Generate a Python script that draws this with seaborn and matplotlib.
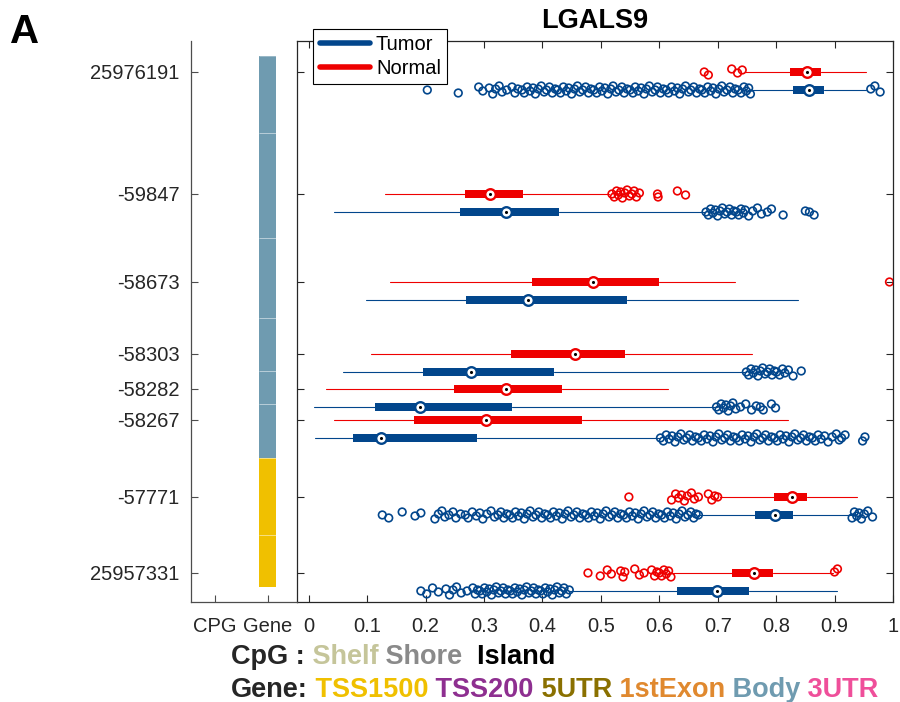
import numpy as np
import pandas as pd
import matplotlib
matplotlib.use("Agg")
import matplotlib.pyplot as plt
from matplotlib.lines import Line2D
from matplotlib.text import Annotation
import seaborn as sns

# ---- data ----
gene_name = "LGALS9"
cpg_labels = ["25976191", "-59847", "-58673", "-58303", "-58282", "-58267", "-57771", "25957331"]
cpg_pos = [25976191, 25971598, 25968286, 25965575, 25964258, 25963091, 25960192, 25957331]
gene_region = ["Body", "Body", "Body", "Body", "Body", "Body", "TSS1500", "TSS1500"]

normal_whislo = [0.747, 0.131, 0.140, 0.106, 0.030, 0.044, 0.704, 0.624]
normal_q1 = [0.824, 0.268, 0.382, 0.346, 0.249, 0.181, 0.796, 0.725]
normal_med = [0.853, 0.311, 0.487, 0.456, 0.338, 0.304, 0.827, 0.762]
normal_q3 = [0.877, 0.367, 0.600, 0.541, 0.434, 0.467, 0.852, 0.794]
normal_whishi = [0.954, 0.514, 0.729, 0.758, 0.615, 0.821, 0.938, 0.897]

tumor_whislo = [0.756, 0.044, 0.098, 0.058, 0.009, 0.010, 0.667, 0.446]
tumor_q1 = [0.829, 0.259, 0.269, 0.196, 0.114, 0.076, 0.764, 0.631]
tumor_med = [0.857, 0.338, 0.375, 0.277, 0.190, 0.123, 0.798, 0.699]
tumor_q3 = [0.882, 0.428, 0.545, 0.419, 0.348, 0.288, 0.829, 0.754]
tumor_whishi = [0.954, 0.679, 0.838, 0.749, 0.698, 0.602, 0.930, 0.905]

normal_out = [
    [0.677, 0.684, 0.724, 0.734, 0.742],
    [0.519, 0.523, 0.527, 0.530, 0.534, 0.537, 0.541, 0.545, 0.549, 0.553, 0.557, 0.561,
     0.566, 0.597, 0.598, 0.631, 0.645],
    [0.994],
    [],
    [],
    [],
    [0.548, 0.621, 0.628, 0.633, 0.638, 0.643, 0.648, 0.655, 0.660, 0.667, 0.684, 0.690,
     0.695, 0.700],
    [0.478, 0.499, 0.511, 0.518, 0.534, 0.538, 0.541, 0.558, 0.566, 0.574, 0.587, 0.592,
     0.596, 0.600, 0.604, 0.608, 0.612, 0.616, 0.620, 0.900, 0.905],
]

tumor_out = [
    [0.203, 0.256, 0.291, 0.298, 0.309, 0.315, 0.320, 0.326, 0.331, 0.339, 0.348, 0.353,
     0.358, 0.365, 0.369, 0.374, 0.379, 0.384, 0.388, 0.393, 0.398, 0.403, 0.407, 0.412,
     0.417, 0.422, 0.426, 0.431, 0.436, 0.441, 0.445, 0.450, 0.455, 0.460, 0.464, 0.469,
     0.474, 0.479, 0.483, 0.488, 0.493, 0.498, 0.502, 0.507, 0.512, 0.517, 0.521, 0.526,
     0.531, 0.536, 0.540, 0.545, 0.550, 0.555, 0.559, 0.564, 0.569, 0.574, 0.578, 0.583,
     0.588, 0.593, 0.597, 0.602, 0.607, 0.612, 0.616, 0.621, 0.626, 0.631, 0.635, 0.640,
     0.645, 0.650, 0.654, 0.659, 0.664, 0.669, 0.673, 0.678, 0.683, 0.688, 0.692, 0.697,
     0.702, 0.707, 0.711, 0.716, 0.721, 0.726, 0.730, 0.735, 0.740, 0.745, 0.749, 0.753,
     0.756, 0.962, 0.969, 0.978],
    [0.680, 0.684, 0.688, 0.692, 0.696, 0.700, 0.704, 0.708, 0.712, 0.716, 0.720, 0.724,
     0.728, 0.732, 0.736, 0.740, 0.744, 0.747, 0.753, 0.760, 0.768, 0.775, 0.785, 0.792,
     0.812, 0.850, 0.857, 0.865],
    [],
    [0.749, 0.753, 0.757, 0.761, 0.765, 0.769, 0.773, 0.777, 0.781, 0.785, 0.789, 0.793,
     0.797, 0.801, 0.806, 0.811, 0.815, 0.821, 0.829, 0.843],
    [0.698, 0.702, 0.706, 0.710, 0.714, 0.718, 0.722, 0.726, 0.731, 0.739, 0.748, 0.758,
     0.766, 0.773, 0.778, 0.792, 0.799],
    [0.602, 0.607, 0.612, 0.617, 0.622, 0.627, 0.632, 0.637, 0.642, 0.647, 0.652, 0.657,
     0.662, 0.667, 0.672, 0.677, 0.682, 0.687, 0.692, 0.697, 0.702, 0.707, 0.712, 0.717,
     0.722, 0.727, 0.732, 0.737, 0.742, 0.747, 0.752, 0.757, 0.762, 0.767, 0.772, 0.777,
     0.782, 0.787, 0.792, 0.797, 0.802, 0.807, 0.812, 0.817, 0.822, 0.827, 0.832, 0.837,
     0.842, 0.847, 0.852, 0.857, 0.862, 0.867, 0.872, 0.877, 0.883, 0.889, 0.896, 0.903,
     0.908, 0.912, 0.918, 0.948, 0.952],
    [0.126, 0.137, 0.160, 0.182, 0.192, 0.216, 0.222, 0.228, 0.233, 0.240, 0.247, 0.252,
     0.260, 0.268, 0.273, 0.280, 0.287, 0.293, 0.298, 0.305, 0.312, 0.318, 0.324, 0.329,
     0.334, 0.339, 0.344, 0.349, 0.354, 0.359, 0.364, 0.369, 0.374, 0.379, 0.384, 0.389,
     0.394, 0.399, 0.404, 0.409, 0.414, 0.419, 0.424, 0.429, 0.434, 0.439, 0.444, 0.449,
     0.454, 0.459, 0.464, 0.469, 0.474, 0.479, 0.484, 0.489, 0.494, 0.499, 0.504, 0.509,
     0.514, 0.519, 0.524, 0.529, 0.534, 0.539, 0.544, 0.549, 0.554, 0.559, 0.564, 0.569,
     0.574, 0.579, 0.584, 0.589, 0.594, 0.599, 0.604, 0.609, 0.614, 0.619, 0.624, 0.629,
     0.634, 0.639, 0.644, 0.649, 0.654, 0.659, 0.663, 0.667, 0.930, 0.934, 0.938, 0.942,
     0.946, 0.951, 0.957, 0.965],
    [0.192, 0.202, 0.212, 0.222, 0.235, 0.241, 0.247, 0.253, 0.261, 0.271, 0.281, 0.285,
     0.289, 0.293, 0.297, 0.301, 0.305, 0.309, 0.313, 0.317, 0.321, 0.325, 0.329, 0.333,
     0.337, 0.341, 0.345, 0.349, 0.353, 0.357, 0.361, 0.365, 0.369, 0.373, 0.377, 0.381,
     0.385, 0.389, 0.393, 0.397, 0.401, 0.405, 0.409, 0.413, 0.417, 0.421, 0.425, 0.429,
     0.433, 0.437, 0.441, 0.446],
]

cpg_legend = ["Shelf", "Shore", "Island"]
gene_legend = ["TSS1500", "TSS200", "5UTR", "1stExon", "Body", "3UTR"]

# ---- styling ----
blue = "#02468c"
red = "#ee0000"
gene_colors = {"TSS1500": "#f0c000", "TSS200": "#8e2f90", "5UTR": "#8a7000",
               "1stExon": "#e0892f", "Body": "#6f9bb0", "3UTR": "#ef4f9a"}
cpg_colors = {"Shelf": "#c5c59a", "Shore": "#8a8a8a", "Island": "#000000"}
txt = "#262626"

sns.set_theme(style="ticks")
plt.rcParams["font.family"] = ["Liberation Sans", "DejaVu Sans"]

bp_px = (cpg_pos[0] - cpg_pos[-1]) / (573 - 72)   # genomic units per pixel
offset = 18 * bp_px                                # tumor row sits below normal row
box_h = 7.5 * bp_px
ylim = (cpg_pos[0] - 530 * bp_px, cpg_pos[0] + 31 * bp_px)
jitter_px = np.array([0, -3, 3, -1, 2, -4, 1, 4, -2, 0, 3, -3, 1])

fig = plt.figure(figsize=(9, 7.02), dpi=100)
ax = fig.add_axes([0.33, 0.1425, 0.6622, 0.7991])
axl = fig.add_axes([0.2122, 0.1425, 0.1178, 0.7991])

pos_n = np.array(cpg_pos, dtype=float)
pos_t = pos_n - offset


def make_stats(lo, q1, med, q3, hi):
    return [dict(whislo=a, q1=b, med=c, q3=d, whishi=e, fliers=[])
            for a, b, c, d, e in zip(lo, q1, med, q3, hi)]


for stats, pos, col in [
        (make_stats(normal_whislo, normal_q1, normal_med, normal_q3, normal_whishi), pos_n, red),
        (make_stats(tumor_whislo, tumor_q1, tumor_med, tumor_q3, tumor_whishi), pos_t, blue)]:
    ax.bxp(stats, positions=pos, widths=box_h, orientation="horizontal",
           patch_artist=True, showcaps=False, showfliers=False, manage_ticks=False,
           boxprops=dict(facecolor=col, edgecolor=col, linewidth=0),
           whiskerprops=dict(color=col, linewidth=0.8),
           medianprops=dict(linewidth=0))

# outliers as open circles with a small fixed vertical spread
rows = []
for group, outs, pos in [("Normal", normal_out, pos_n), ("Tumor", tumor_out, pos_t)]:
    for vals, p in zip(outs, pos):
        if not vals:
            continue
        jit = np.resize(jitter_px, len(vals)) * bp_px
        for v, j in zip(vals, jit):
            rows.append((group, v, p + j))
out_df = pd.DataFrame(rows, columns=["group", "value", "y"])
for group, col in [("Tumor", blue), ("Normal", red)]:
    d = out_df[out_df["group"] == group]
    sns.scatterplot(data=d, x="value", y="y", ax=ax, marker="o", s=30,
                    facecolor="none", edgecolor=col, linewidth=1.2, zorder=3)

# medians: white circle with coloured rim and black dot
for meds, pos, col in [(normal_med, pos_n, red), (tumor_med, pos_t, blue)]:
    sns.scatterplot(x=meds, y=pos, ax=ax, marker="o", s=58, facecolor="white",
                    edgecolor=col, linewidth=1.7, zorder=5)
    sns.scatterplot(x=meds, y=pos, ax=ax, marker="o", s=5, color="black",
                    linewidth=0, zorder=6)

ax.set_xlim(-0.02, 1.0)
ax.set_ylim(*ylim)
ax.set_xticks(np.round(np.arange(0, 1.01, 0.1), 1))
ax.set_xticklabels(["0", "0.1", "0.2", "0.3", "0.4", "0.5", "0.6", "0.7", "0.8", "0.9", "1"])
ax.set_yticks(cpg_pos)
ax.set_yticklabels([])
ax.tick_params(axis="both", direction="in", length=5, width=0.8, color=txt,
               top=True, right=True, labelsize=14.5, labelcolor=txt)
ax.tick_params(axis="x", pad=11)
for s in ax.spines.values():
    s.set_color(txt)
    s.set_linewidth(0.9)
ax.set_xlabel("")
ax.set_ylabel("")
ax.set_title(gene_name, fontsize=19.5, fontweight="bold", pad=9.5, color="black")

handles = [Line2D([], [], color=blue, lw=4), Line2D([], [], color=red, lw=4)]
leg = ax.legend(handles, ["Tumor", "Normal"], loc="upper left",
                bbox_to_anchor=(0.027, 1.0214), borderaxespad=0, fontsize=14.5,
                frameon=True, fancybox=False, framealpha=1, edgecolor="black",
                handlelength=2.5, handletextpad=0.3, labelspacing=0.22, borderpad=0.32)
leg.get_frame().set_linewidth(0.8)
for t in leg.get_texts():
    t.set_color("black")

# ---- left annotation panel ----
bounds = [cpg_pos[0] + 16 * bp_px]
bounds += [(a + b) / 2 for a, b in zip(cpg_pos[:-1], cpg_pos[1:])]
bounds += [cpg_pos[-1] - 14 * bp_px]
for i, region in enumerate(gene_region):
    axl.bar(2, bounds[i] - bounds[i + 1], bottom=bounds[i + 1], width=0.32,
            color=gene_colors[region], edgecolor="none")
    axl.hlines([bounds[i], bounds[i + 1]], 2 - 0.16, 2 + 0.16,
               colors="white", linewidth=0.6, alpha=0.35)

axl.set_xlim(0.55, 2.55)
axl.set_ylim(*ylim)
axl.set_xticks([1, 2])
axl.set_xticklabels(["CPG", "Gene"])
axl.set_yticks(cpg_pos)
axl.set_yticklabels(cpg_labels)
axl.tick_params(axis="both", direction="in", length=5, width=0.8, color="#4d4d4d",
                labelsize=14.5, labelcolor=txt)
axl.tick_params(axis="y", pad=8)
axl.tick_params(axis="x", pad=11)
axl.spines["top"].set_visible(False)
axl.spines["right"].set_visible(False)
for s in ["left", "bottom"]:
    axl.spines[s].set_color("#4d4d4d")
    axl.spines[s].set_linewidth(0.9)
axl.set_facecolor("none")

# ---- panel letter and colour key ----
fig.text(0.011, 1 - 43 / 702, "A", fontsize=29, fontweight="bold", color="black",
         ha="left", va="baseline")


def chain(y, head, words, colors, seps):
    prev = fig.text(231 / 900, y, head, fontsize=19.5, fontweight="bold", color=txt,
                    ha="left", va="bottom")
    for w, sp in zip(words, seps):
        prev = fig.add_artist(Annotation(
            sp + w, xy=(1, 0), xycoords=prev, fontsize=19.5, fontweight="bold",
            color=colors[w], ha="left", va="bottom", annotation_clip=False))


chain(1 - 670 / 702, "CpG :", cpg_legend, cpg_colors, [" ", " ", "  "])
chain(1 - 703 / 702, "Gene:", gene_legend, gene_colors, [" "] * 6)

fig.savefig("out.png", dpi=100, facecolor="white")
